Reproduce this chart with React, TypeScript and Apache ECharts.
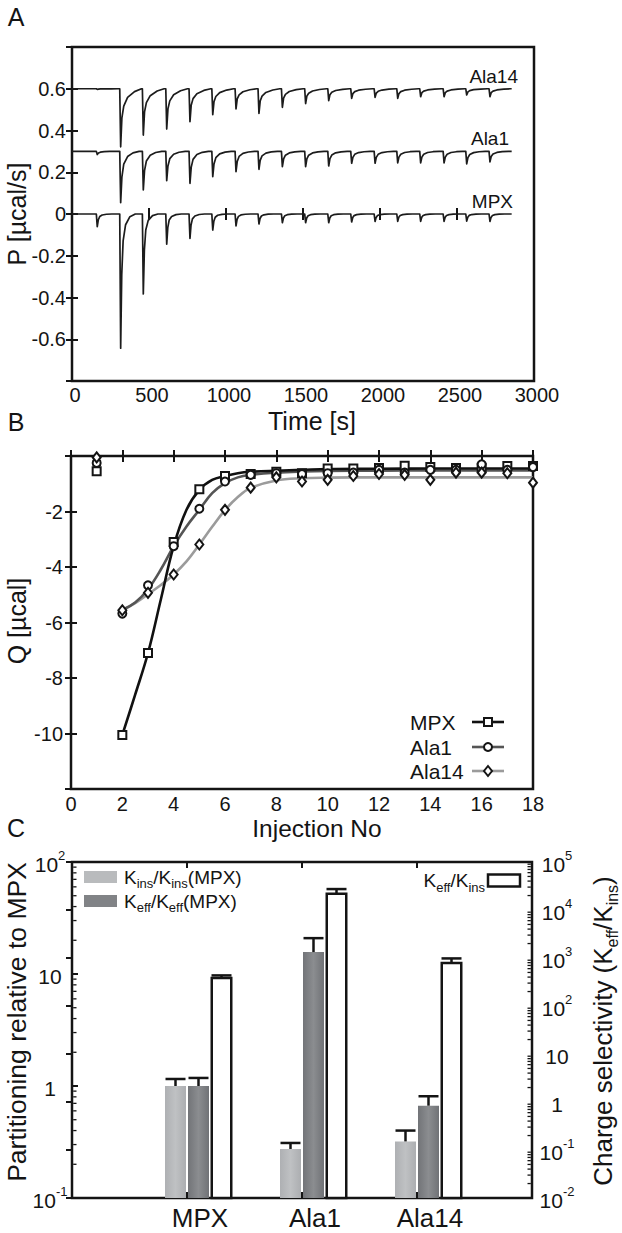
import React, { useEffect, useRef } from 'react';
import * as echarts from 'echarts';

const FONT = '"Liberation Sans", Arial, Helvetica, sans-serif';
const INK = '#141414';

// ---------------- Panel A: raw thermograms ----------------
const peakTimes = [164, 316, 463, 615, 766, 914, 1065, 1214, 1366, 1517, 1667, 1816, 1968, 2115, 2264, 2416, 2563, 2714];
const traceEnd = 2855;
const mpxBase = 0;
const ala1Base = 0.3;
const ala14Base = 0.6;
const mpxPeaks = [-0.061, -0.643, -0.383, -0.145, -0.117, -0.077, -0.057, -0.048, -0.042, -0.042, -0.042, -0.038, -0.036, -0.035, -0.035, -0.035, -0.034, -0.036];
const ala1Peaks = [0.285, 0.054, 0.115, 0.16, 0.147, 0.179, 0.203, 0.214, 0.227, 0.227, 0.23, 0.243, 0.243, 0.245, 0.245, 0.245, 0.24, 0.25];
const ala14Peaks = [0.597, 0.322, 0.378, 0.407, 0.442, 0.476, 0.503, 0.482, 0.511, 0.529, 0.543, 0.554, 0.559, 0.554, 0.562, 0.562, 0.57, 0.562];
// spike profile: [seconds from peak, fraction of depth]
const mpxShape = [[-6, 0], [0, 1], [7, 0.45], [16, 0.2], [32, 0.08], [60, 0.02], [95, 0]];
const ala1Shape = [[-6, 0], [0, 1], [8, 0.5], [20, 0.25], [45, 0.1], [80, 0.03], [120, 0]];
const ala14Shape = [[-6, 0], [0, 1], [8, 0.5], [20, 0.3], [45, 0.15], [90, 0.05], [135, 0]];
const traceLabels = ['Ala14', 'Ala1', 'MPX'];

// ---------------- Panel B: integrated heats ----------------
const injectionNo = [1, 2, 3, 4, 5, 6, 7, 8, 9, 10, 11, 12, 13, 14, 15, 16, 17, 18];
const mpxQ = [-0.55, -10.05, -7.1, -3.1, -1.2, -0.72, -0.65, -0.57, -0.62, -0.45, -0.45, -0.43, -0.35, -0.4, -0.43, -0.42, -0.36, -0.36];
const ala1Q = [-0.25, -5.68, -4.66, -3.25, -1.9, -0.92, -0.68, -0.62, -0.65, -0.62, -0.6, -0.5, -0.6, -0.5, -0.5, -0.3, -0.5, -0.4];
const ala14Q = [-0.05, -5.56, -4.93, -4.27, -3.19, -1.94, -1.14, -0.77, -0.92, -0.86, -0.72, -0.65, -0.68, -0.86, -0.6, -0.6, -0.62, -0.96];
const fitX = [2, 2.5, 3, 3.5, 4, 4.5, 5, 5.5, 6, 6.5, 7, 8, 9, 10, 12, 14, 16, 18];
const mpxFit = [-10.05, -8.6, -7.1, -5.17, -3.25, -1.94, -1.22, -0.86, -0.72, -0.62, -0.57, -0.53, -0.5, -0.47, -0.46, -0.45, -0.45, -0.45];
const ala1Fit = [-5.55, -5.28, -4.8, -4.09, -3.25, -2.54, -1.94, -1.34, -0.98, -0.77, -0.68, -0.6, -0.56, -0.54, -0.53, -0.52, -0.52, -0.52];
const ala14Fit = [-5.55, -5.3, -4.98, -4.65, -4.27, -3.8, -3.19, -2.55, -1.95, -1.48, -1.15, -0.88, -0.8, -0.78, -0.77, -0.77, -0.77, -0.77];
const seriesNames = ['MPX', 'Ala1', 'Ala14'];

// ---------------- Panel C: partitioning ----------------
const peptides = ['MPX', 'Ala1', 'Ala14'];
const kinsRel = [1.0, 0.274, 0.32];
const kinsRelErr = [1.155, 0.31, 0.4];
const keffRel = [1.0, 15.7, 0.667];
const keffRelErr = [1.18, 20.9, 0.81];
const selectivity = [383, 21900, 787];
const selectivityErr = [434, 27300, 980];
const minorMultipliers = [2, 3, 4, 5, 6, 7, 8, 9];
const leftDecades = [0.1, 1, 10];
const rightDecades = [0.01, 0.1, 1, 10, 100, 1000, 10000];

function buildTrace(base: number, peaks: number[], shape: number[][]) {
  const pts: number[][] = [[0, base]];
  peaks.forEach((p, i) => {
    const t = peakTimes[i];
    shape.forEach(([dt, f]) => pts.push([t + dt, base + (p - base) * f]));
  });
  pts.push([traceEnd, base]);
  return pts;
}

const tickLabel = { color: INK, fontFamily: FONT, fontSize: 20 };
const tickStyle = { inside: true, length: 6, lineStyle: { color: INK, width: 2 } };
const noSplit = { show: false };
const noLine = { show: false };
const plain = (v: number) => String(Math.round(v * 1000) / 1000);

const logLabel = (v: number) => {
  const e = Math.round(Math.log10(v));
  if (e === 0) return '{b|1}';
  if (e === 1) return '{b|10}';
  return `{b|10}{sup|${e}}`;
};
const logRich = {
  b: { fontSize: 21, fontFamily: FONT, color: INK, lineHeight: 26, verticalAlign: 'bottom' },
  sup: { fontSize: 13, fontFamily: FONT, color: INK, lineHeight: 13, verticalAlign: 'top' },
};

function txt(x: number, y: number, text: string, fontSize: number, align = 'center', rotation = 0, rich?: any) {
  return {
    type: 'text', x, y, rotation, silent: true, z: 50,
    style: {
      text, fontSize, fontFamily: FONT, fill: INK,
      align, verticalAlign: 'middle', textAlign: align, textVerticalAlign: 'middle',
      rich,
    },
  };
}

function subRich(main: number, sub: number, lh: number) {
  return {
    m: { fontSize: main, fontFamily: FONT, fill: INK, color: INK, lineHeight: lh, verticalAlign: 'middle' },
    s: { fontSize: sub, fontFamily: FONT, fill: INK, color: INK, lineHeight: sub, verticalAlign: 'bottom' },
  };
}

const lightFill = new echarts.graphic.LinearGradient(0, 0, 1, 0, [
  { offset: 0, color: '#aeb0b3' }, { offset: 0.5, color: '#bfc1c3' }, { offset: 1, color: '#acaeb1' },
]);
const darkFill = new echarts.graphic.LinearGradient(0, 0, 1, 0, [
  { offset: 0, color: '#727478' }, { offset: 0.5, color: '#8b8d90' }, { offset: 1, color: '#707276' },
]);

function barSeries(values: number[], errs: number[], yAxisIndex: number, axisMin: number, offset: number, width: number, fill: any, stroke: string | null) {
  return {
    type: 'custom', coordinateSystem: 'cartesian2d', xAxisIndex: 4, yAxisIndex, z: 5,
    data: peptides.map((_, i) => [i + 1, values[i], errs[i]]),
    renderItem: (params: any, api: any) => {
      const x = api.value(0);
      const top = api.coord([x, api.value(1)]);
      const bot = api.coord([x, axisMin]);
      const err = api.coord([x, api.value(2)]);
      const cx = top[0] + offset;
      return {
        type: 'group',
        children: [
          {
            type: 'rect',
            shape: { x: cx - width / 2, y: top[1], width, height: bot[1] - top[1] },
            style: stroke ? { fill, stroke, lineWidth: 2.5 } : { fill },
          },
          { type: 'line', shape: { x1: cx, y1: top[1], x2: cx, y2: err[1] }, style: { stroke: INK, lineWidth: 2.5 } },
          { type: 'line', shape: { x1: cx - 10, y1: err[1], x2: cx + 10, y2: err[1] }, style: { stroke: INK, lineWidth: 2.5 } },
        ],
      };
    },
  };
}

function minorTickSeries(yAxisIndex: number, xPos: number, decades: number[], dir: number) {
  const data: number[][] = [];
  decades.forEach((d) => minorMultipliers.forEach((m) => data.push([xPos, d * m])));
  return {
    type: 'custom', coordinateSystem: 'cartesian2d', xAxisIndex: 4, yAxisIndex, z: 6, silent: true,
    data,
    renderItem: (params: any, api: any) => {
      const c = api.coord([api.value(0), api.value(1)]);
      return {
        type: 'line',
        shape: { x1: c[0] + dir * 1.2, y1: c[1], x2: c[0] + dir * 4.5, y2: c[1] },
        style: { stroke: INK, lineWidth: 1.3 },
      };
    },
  };
}

export default function App() {
  const ref = useRef<HTMLDivElement>(null);
  useEffect(() => {
    if (!ref.current) return;
    const chart = echarts.init(ref.current, undefined, { renderer: 'svg' });

    const gridBase = { show: true, borderColor: INK, borderWidth: 2.5, backgroundColor: 'transparent', outerBoundsMode: 'none', containLabel: false };

    const option: any = {
      animation: false,
      backgroundColor: '#ffffff',
      textStyle: { fontFamily: FONT },
      grid: [
        { ...gridBase, left: 72, top: 47, width: 462, height: 334 },
        { ...gridBase, left: 71, top: 456, width: 462, height: 333 },
        { ...gridBase, left: 72, top: 862, width: 460, height: 336 },
      ],
      xAxis: [
        { gridIndex: 0, type: 'value', min: 0, max: 3000, interval: 500, position: 'bottom', axisLine: noLine, axisTick: tickStyle, axisLabel: { ...tickLabel, margin: 4, padding: [0, 0, 0, 6], formatter: plain }, splitLine: noSplit },
        { gridIndex: 0, type: 'value', min: 0, max: 3000, interval: 500, position: 'top', axisLine: noLine, axisTick: tickStyle, axisLabel: { show: false }, splitLine: noSplit },
        { gridIndex: 1, type: 'value', min: 0, max: 18, interval: 2, position: 'bottom', axisLine: noLine, axisTick: tickStyle, axisLabel: { ...tickLabel, margin: 5, formatter: plain }, splitLine: noSplit },
        { gridIndex: 1, type: 'value', min: 0, max: 18, interval: 2, position: 'top', axisLine: noLine, axisTick: tickStyle, axisLabel: { show: false }, splitLine: noSplit },
        {
          gridIndex: 2, type: 'value', min: 0, max: 4, interval: 1, position: 'bottom', axisLine: noLine, axisTick: tickStyle, splitLine: noSplit,
          axisLabel: { color: INK, fontFamily: FONT, fontSize: 26, margin: 7, padding: [0, 0, 0, 26], formatter: (v: number) => peptides[v - 1] || '' },
        },
        { gridIndex: 2, type: 'value', min: 0, max: 4, interval: 1, position: 'top', axisLine: noLine, axisTick: tickStyle, axisLabel: { show: false }, splitLine: noSplit },
      ],
      yAxis: [
        { gridIndex: 0, type: 'value', min: -0.8, max: 0.8, interval: 0.2, position: 'left', axisLine: noLine, axisTick: tickStyle, axisLabel: { ...tickLabel, margin: 6, showMinLabel: false, showMaxLabel: false, formatter: plain }, splitLine: noSplit },
        { gridIndex: 0, type: 'value', min: -0.8, max: 0.8, interval: 0.2, position: 'right', axisLine: noLine, axisTick: tickStyle, axisLabel: { show: false }, splitLine: noSplit },
        { gridIndex: 1, type: 'value', min: -12, max: 0, interval: 2, position: 'left', axisLine: noLine, axisTick: tickStyle, axisLabel: { ...tickLabel, margin: 8, showMinLabel: false, showMaxLabel: false, formatter: plain }, splitLine: noSplit },
        { gridIndex: 1, type: 'value', min: -12, max: 0, interval: 2, position: 'right', axisLine: noLine, axisTick: tickStyle, axisLabel: { show: false }, splitLine: noSplit },
        { gridIndex: 2, type: 'log', logBase: 10, min: 0.1, max: 100, splitNumber: 3, position: 'left', axisLine: noLine, axisTick: tickStyle, splitLine: noSplit, axisLabel: { formatter: logLabel, rich: logRich, margin: 22, align: 'center' } },
        { gridIndex: 2, type: 'log', logBase: 10, min: 0.01, max: 100000, splitNumber: 7, position: 'right', axisLine: noLine, axisTick: tickStyle, splitLine: noSplit, axisLabel: { formatter: logLabel, rich: logRich, margin: 25, align: 'center' } },
      ],
      series: [
        // Panel A
        ...[
          [ala14Base, ala14Peaks, ala14Shape],
          [ala1Base, ala1Peaks, ala1Shape],
          [mpxBase, mpxPeaks, mpxShape],
        ].map(([b, p, s]: any, i) => ({
          type: 'line', name: traceLabels[i], xAxisIndex: 0, yAxisIndex: 0, showSymbol: false, silent: true,
          data: buildTrace(b, p, s), lineStyle: { color: '#1c1c1c', width: 1.7, join: 'round' },
        })),
        // Panel B fits
        ...[
          [ala14Fit, '#9b9b9b'],
          [ala1Fit, '#555555'],
          [mpxFit, '#111111'],
        ].map(([f, c]: any) => ({
          type: 'line', xAxisIndex: 2, yAxisIndex: 2, showSymbol: false, smooth: 0.4, silent: true, clip: false,
          data: fitX.map((x, i) => [x, f[i]]), lineStyle: { color: c, width: 2.6 },
        })),
        // Panel B data
        ...[
          [mpxQ, 'rect', 8],
          [ala1Q, 'circle', 8],
          [ala14Q, 'diamond', [8, 10]],
        ].map(([q, sym, size]: any, i) => ({
          type: 'scatter', name: seriesNames[i], xAxisIndex: 2, yAxisIndex: 2, symbol: sym, symbolSize: size, clip: false, z: 4,
          data: injectionNo.map((x, j) => [x, q[j]]),
          itemStyle: { color: '#ffffff', borderColor: INK, borderWidth: 2, opacity: 1 },
        })),
        // Panel C bars
        barSeries(kinsRel, kinsRelErr, 4, 0.1, -11.5, 21, lightFill, null),
        barSeries(keffRel, keffRelErr, 4, 0.1, 11.5, 21, darkFill, null),
        barSeries(selectivity, selectivityErr, 5, 0.01, 34.5, 19.5, '#ffffff', INK),
        minorTickSeries(4, 0, leftDecades, 1),
        minorTickSeries(5, 4, rightDecades, -1),
      ],
      graphic: {
        elements: [
          // panel letters
          txt(16, 17, 'A', 25),
          txt(16, 422, 'B', 25),
          txt(16, 828, 'C', 25),
          // Panel A titles
          txt(17, 214, 'P [µcal/s]', 25, 'center', Math.PI / 2),
          txt(312, 421, 'Time [s]', 25),
          txt(518, 76, traceLabels[0], 19, 'right'),
          txt(509, 138, traceLabels[1], 19, 'right'),
          txt(513, 201, traceLabels[2], 19, 'right'),
          // Panel B titles
          txt(17, 621, 'Q [µcal]', 25, 'center', Math.PI / 2),
          txt(317, 828, 'Injection No', 24.5),
          // Panel B legend
          txt(410, 722, seriesNames[0], 21, 'left'),
          txt(410, 747, seriesNames[1], 21, 'left'),
          txt(410, 771, seriesNames[2], 21, 'left'),
          { type: 'line', z: 50, shape: { x1: 472, y1: 722, x2: 504, y2: 722 }, style: { stroke: '#111111', lineWidth: 2.6 } },
          { type: 'line', z: 50, shape: { x1: 472, y1: 747, x2: 504, y2: 747 }, style: { stroke: '#555555', lineWidth: 2.6 } },
          { type: 'line', z: 50, shape: { x1: 472, y1: 771, x2: 504, y2: 771 }, style: { stroke: '#9b9b9b', lineWidth: 2.6 } },
          { type: 'rect', z: 51, shape: { x: 484, y: 718, width: 8, height: 8 }, style: { fill: '#fff', stroke: INK, lineWidth: 2 } },
          { type: 'circle', z: 51, shape: { cx: 488, cy: 747, r: 4 }, style: { fill: '#fff', stroke: INK, lineWidth: 2 } },
          { type: 'polygon', z: 51, shape: { points: [[488, 766], [492, 771], [488, 776], [484, 771]] }, style: { fill: '#fff', stroke: INK, lineWidth: 2 } },
          // Panel C titles
          txt(17, 1022, 'Partitioning relative to MPX', 26.5, 'center', Math.PI / 2),
          txt(603, 1031, '{m|Charge selectivity (K}{s|eff}{m|/K}{s|ins}{m|)}', 26, 'center', Math.PI / 2, subRich(26, 16, 34)),
          // Panel C legend
          { type: 'rect', z: 50, shape: { x: 84, y: 871, width: 33, height: 12 }, style: { fill: '#b9bbbd' } },
          { type: 'rect', z: 50, shape: { x: 84, y: 895, width: 33, height: 12 }, style: { fill: '#818386' } },
          txt(124, 877, '{m|K}{s|ins}{m|/K}{s|ins}{m|(MPX)}', 19, 'left', 0, subRich(19, 13, 26)),
          txt(124, 901, '{m|K}{s|eff}{m|/K}{s|eff}{m|(MPX)}', 19, 'left', 0, subRich(19, 13, 26)),
          txt(485, 880.5, '{m|K}{s|eff}{m|/K}{s|ins}', 19, 'right', 0, subRich(19, 13, 26)),
          { type: 'rect', z: 50, shape: { x: 488, y: 874.5, width: 32, height: 12 }, style: { fill: '#fff', stroke: INK, lineWidth: 2.5 } },
        ],
      },
    };

    chart.setOption(option);
    return () => chart.dispose();
  }, []);

  return <div ref={ref} style={{ position: 'absolute', left: 0, top: 0, width: 622, height: 1233, background: '#fff' }} />;
}
